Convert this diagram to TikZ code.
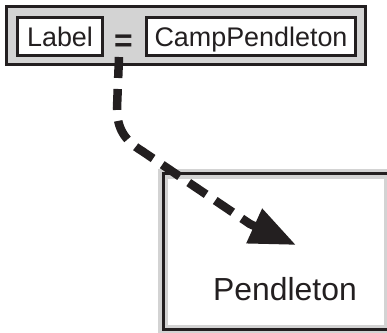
\documentclass[tikz,border=0pt]{standalone}
\usepackage{fontspec}
\setmainfont{Liberation Sans}
\usetikzlibrary{arrows.meta}
\definecolor{ink}{RGB}{35,31,32}
\definecolor{boxgray}{RGB}{211,211,211}
\begin{document}
\begin{tikzpicture}[x=1bp,y=-1bp,
  frame/.style={draw=ink, line width=3bp, inner sep=0pt, outer sep=0pt},
  txt/.style={font=\fontsize{27}{30}\selectfont, text=ink, text depth=0pt},
  flow/.style={draw=ink, line width=8.5bp, dash pattern=on 21bp off 11bp,
    -{Triangle[length=46bp,width=36bp]}}]
\useasboundingbox (0,0) rectangle (387,333);
\node[frame, fill=boxgray, minimum width=359bp, minimum height=58bp] (outer) at (186,35.5) {};
\node[frame, fill=white, minimum width=85bp, minimum height=38bp, txt] (label) at (60,36.5) {Label};
\node[frame, fill=white, minimum width=209bp, minimum height=38bp, txt] (camp) at (251,36.5) {CampPendleton};
\node[text=ink, font=\fontsize{32}{32}\selectfont\bfseries, inner sep=0pt, anchor=base] (eq) at (123.5,51) {=};
\node[draw=boxgray, line width=3.5bp, double=ink, double distance=3bp, fill=white,
  minimum width=225.5bp, minimum height=156bp, inner sep=0pt] (dst) at (276.25,251.5) {};
\node[font=\fontsize{32}{36}\selectfont, text=ink, anchor=base, inner sep=0pt] (pend) at (285,300) {Pendleton};
\coordinate (s) at (119,57);
\coordinate (w1) at (117,108);
\coordinate (w2) at (142,151);
\coordinate (w3) at (250,224);
\coordinate (tip) at (296,245);
\draw[flow] (s) -- (w1) .. controls (117,128) and (124,140) .. (w2) -- (w3) -- (tip);
\end{tikzpicture}
\end{document}
